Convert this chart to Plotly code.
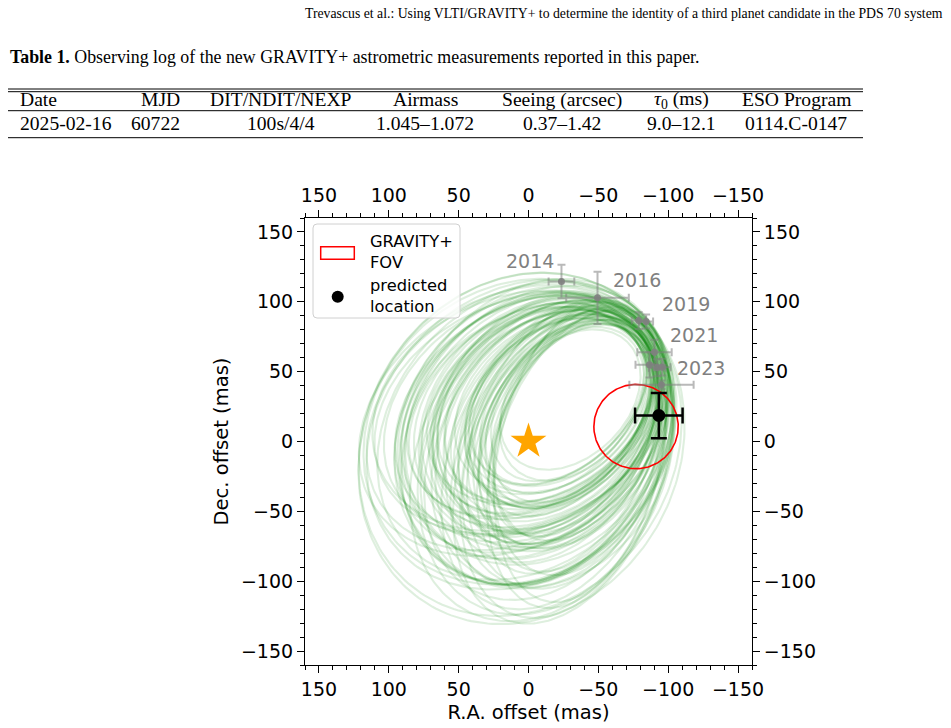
import numpy as np
import plotly.graph_objects as go

W, H = 951, 728

# ---------------- data ----------------
# Orbit draws: ellipse centre (RA, Dec offsets, mas), semi-axes (mas), tilt (deg)
orbit_ra0 = [-30, -21, -12, -4, 5, -20, -10, 0, 10, -29, -28, -26, -25, -21, -12, -4, 5,
             -31, -32, -34, -35, -12, -4, 5, -20, -15, -10,
             -23, -9, -6, 6, -17, -12, 3, 8, -26, -30, -23, -27, -23, -9, -6, 7,
             -28, -34, -31, -37, -9, -6, 7, -22, -12, -12,
             -13, -5, -11, -1, -29, -27, -13, -5, -33, -35, -13, -5, -21, -16, -31,
             -28, -27, -25, -24, -26, -22, -18, -16, -24, -14, -8, -18, -2, -6, 2, -14, -20]
orbit_dec0 = [30, 21, 12, 4, -5, 26, 22, 19, 15, 19, 8, -4, -15, 28, 25, 22, 20,
              20, 10, 0, -10, 18, 11, 5, 9, -2, -12,
              24, 13, 7, -2, 27, 25, 20, 18, 20, 11, -3, -12, 31, 26, 25, 22,
              21, 13, 1, -7, 19, 14, 7, 12, -1, -9,
              9, 1, 19, 16, 5, -7, 22, 19, 7, -3, 15, 8, 6, -5, 27,
              28, 25, 27, 22, 18, 24, 20, 15, 14, 24, 16, 4, 14, 2, 8, -6, -10]
orbit_a = [58, 76, 94, 112, 130, 73, 88, 103, 118, 74, 89, 105, 120, 71, 84, 97, 110,
           72, 85, 98, 112, 90, 105, 121, 90, 106, 122,
           79, 98, 115, 128, 77, 91, 107, 116, 78, 92, 109, 118, 74, 88, 100, 108,
           76, 88, 102, 110, 94, 108, 118, 93, 110, 119,
           91, 109, 85, 100, 86, 102, 81, 94, 82, 95, 87, 102, 87, 103, 62,
           66, 72, 70, 80, 80, 78, 86, 90, 88, 82, 96, 98, 108, 112, 118, 114, 116]
orbit_b = [41, 59, 76, 94, 112, 53, 65, 77, 89, 49, 57, 64, 72, 51, 60, 70, 80,
           46, 50, 55, 60, 70, 85, 100, 64, 76, 88,
           57, 79, 92, 110, 56, 63, 80, 86, 52, 55, 67, 70, 49, 63, 68, 82,
           49, 48, 58, 58, 73, 83, 102, 62, 79, 86,
           78, 96, 67, 79, 59, 66, 62, 72, 52, 57, 72, 87, 66, 78, 43,
           43, 45, 45, 52, 50, 54, 60, 66, 56, 60, 72, 68, 82, 88, 94, 80, 74]
orbit_tilt = [45, 49, 52, 56, 60, 41, 38, 34, 30, 51, 58, 64, 70, 40, 35, 30, 25,
              52, 60, 68, 75, 45, 45, 45, 55, 60, 65,
              52, 49, 59, 57, 38, 41, 31, 33, 48, 61, 61, 72, 43, 32, 33, 22,
              49, 63, 65, 77, 42, 48, 42, 58, 57, 68,
              58, 62, 44, 40, 64, 70, 41, 36, 66, 74, 51, 51, 61, 66, 50,
              47, 50, 43, 48, 55, 44, 46, 50, 56, 40, 44, 58, 40, 54, 46, 62, 66]

# Astrometric measurements (mas)
obs_ra = [-23.6, -49.4, -78.9, -84.2, -90.2, -86.6, -92.1, -95.7, -95.2]
obs_dec = [114.6, 102.9, 86.6, 85.9, 63.9, 54.9, 52.8, 53.2, 40.6]
obs_ra_err = [9.2, 22.4, 5.0, 5.0, 12.3, 10.0, 6.0, 6.0, 23.0]
obs_dec_err = [12.0, 18.7, 6.0, 5.0, 9.0, 9.0, 6.0, 6.0, 3.0]

epoch_labels = ["2014", "2016", "2019", "2021", "2023"]
epoch_label_ra = [-1.4, -77.8, -112.9, -118.3, -123.8]
epoch_label_dec = [129.1, 115.7, 98.1, 76.6, 52.8]

pred_ra, pred_dec = [-93.3], [18.6]
pred_ra_err, pred_dec_err = [17.0], [16.2]

fov_ra, fov_dec, fov_radius = -77.0, 10.7, 30.2

# Table
table_header = ["Date", "MJD", "DIT/NDIT/NEXP", "Airmass", "Seeing (arcsec)",
                "<i>τ</i><sub>0</sub> (ms)", "ESO Program"]
table_row = ["2025-02-16", "60722", "100s/4/4", "1.045–1.072", "0.37–1.42",
             "9.0–12.1", "0114.C-0147"]

# ---------------- helpers ----------------
def X(px):
    return px / W


def Y(py):
    return 1 - py / H


fig = go.Figure()

t = np.linspace(0, 2 * np.pi, 240)
for ra0, de0, a, b, th in zip(orbit_ra0, orbit_dec0, orbit_a, orbit_b, orbit_tilt):
    r = np.deg2rad(th)
    xw = a * np.cos(t) * np.cos(r) - b * np.sin(t) * np.sin(r)
    yn = a * np.cos(t) * np.sin(r) + b * np.sin(t) * np.cos(r)
    fig.add_trace(go.Scatter(x=ra0 - xw, y=de0 + yn, mode="lines",
                             line=dict(color="rgba(0,128,0,0.13)", width=2.1),
                             showlegend=False, hoverinfo="skip"))

# GRAVITY+ FOV
phi = np.linspace(0, 2 * np.pi, 200)
fig.add_trace(go.Scatter(x=fov_ra + fov_radius * np.cos(phi), y=fov_dec + fov_radius * np.sin(phi),
                         mode="lines", line=dict(color="red", width=1.6),
                         name="GRAVITY+ FOV", showlegend=False, hoverinfo="skip"))

# measurements
fig.add_trace(go.Scatter(
    x=obs_ra, y=obs_dec, mode="markers",
    marker=dict(color="rgba(128,128,128,0.9)", size=7),
    error_x=dict(type="data", array=obs_ra_err, color="rgba(128,128,128,0.55)", thickness=2, width=4),
    error_y=dict(type="data", array=obs_dec_err, color="rgba(128,128,128,0.55)", thickness=2, width=4),
    showlegend=False, hoverinfo="skip"))

# predicted location
fig.add_trace(go.Scatter(
    x=pred_ra, y=pred_dec, mode="markers", name="predicted location",
    marker=dict(color="black", size=13),
    error_x=dict(type="data", array=pred_ra_err, color="black", thickness=2.5, width=8),
    error_y=dict(type="data", array=pred_dec_err, color="black", thickness=2.5, width=8),
    showlegend=False, hoverinfo="skip"))

# star
fig.add_trace(go.Scatter(x=[0], y=[0], mode="markers",
                         marker=dict(symbol="star", color="#FFA500", size=27, line=dict(width=0)),
                         showlegend=False, hoverinfo="skip"))

# dummy trace for mirrored axes
fig.add_trace(go.Scatter(x=[None], y=[None], xaxis="x2", yaxis="y2", showlegend=False, hoverinfo="skip"))

for lab, lra, ldec in zip(epoch_labels, epoch_label_ra, epoch_label_dec):
    fig.add_annotation(x=lra, y=ldec, xref="x", yref="y", text=lab, showarrow=False,
                       font=dict(family="DejaVu Sans", size=19, color="gray"),
                       xanchor="center", yanchor="middle")

xdom = [X(305), X(752)]
ydom = [Y(665), Y(218)]
axis_common = dict(showgrid=False, zeroline=False, showline=True, linecolor="black", linewidth=1.1,
                   ticks="outside", ticklen=7, tickwidth=1.1, tickcolor="black",
                   tick0=0, dtick=50, automargin=False,
                   minor=dict(ticks="outside", ticklen=4, tickwidth=1, tickcolor="black", dtick=10, tick0=0),
                   tickfont=dict(family="DejaVu Sans", size=19, color="black"))

fig.update_layout(
    width=W, height=H, margin=dict(l=0, r=0, t=0, b=0, pad=0, autoexpand=False),
    paper_bgcolor="white", plot_bgcolor="white", showlegend=False,
    xaxis=dict(domain=xdom, range=[160, -160], anchor="y",
               title=dict(text="R.A. offset (mas)", font=dict(family="DejaVu Sans", size=19.5, color="black"),
                          standoff=6), **axis_common),
    yaxis=dict(domain=ydom, range=[-160, 160], anchor="x",
               title=dict(text="Dec. offset (mas)", font=dict(family="DejaVu Sans", size=19.5, color="black"),
                          standoff=7), **axis_common),
    xaxis2=dict(overlaying="x", side="top", anchor="y", range=[160, -160], **axis_common),
    yaxis2=dict(overlaying="y", side="right", anchor="x", range=[-160, 160], **axis_common),
)

# ---------- manual legend ----------
lx0, lx1, ly0, ly1, rr = 313, 460, 224, 318, 4
path = (f"M {X(lx0 + rr)},{Y(ly0)} L {X(lx1 - rr)},{Y(ly0)} Q {X(lx1)},{Y(ly0)} {X(lx1)},{Y(ly0 + rr)} "
        f"L {X(lx1)},{Y(ly1 - rr)} Q {X(lx1)},{Y(ly1)} {X(lx1 - rr)},{Y(ly1)} "
        f"L {X(lx0 + rr)},{Y(ly1)} Q {X(lx0)},{Y(ly1)} {X(lx0)},{Y(ly1 - rr)} "
        f"L {X(lx0)},{Y(ly0 + rr)} Q {X(lx0)},{Y(ly0)} {X(lx0 + rr)},{Y(ly0)} Z")
fig.add_shape(type="path", path=path, xref="paper", yref="paper",
              line=dict(color="#d0d0d0", width=1), fillcolor="rgba(255,255,255,0.8)", layer="above")
fig.add_shape(type="rect", xref="paper", yref="paper", x0=X(320.7), x1=X(354.3), y0=Y(259.3), y1=Y(246.7),
              line=dict(color="red", width=1.5), fillcolor="rgba(0,0,0,0)", layer="above")
fig.add_shape(type="circle", xref="paper", yref="paper", x0=X(331.7), x1=X(343.7), y0=Y(302.7), y1=Y(290.7),
              line=dict(color="black", width=0), fillcolor="black", layer="above")
for txt, py in [("GRAVITY+<br>FOV", 251.9), ("predicted<br>location", 295.9)]:
    fig.add_annotation(x=X(368), y=Y(py), xref="paper", yref="paper", text=txt, showarrow=False,
                       xanchor="left", yanchor="middle", align="left",
                       font=dict(family="DejaVu Sans", size=16.3, color="black"))

# ---------- page header, caption and table ----------
serif = "Liberation Serif"
fig.add_annotation(x=X(945), y=Y(13.3), xref="paper", yref="paper", showarrow=False,
                   xanchor="right", yanchor="middle",
                   text="Trevascus et al.: Using VLTI/GRAVITY+ to determine the identity of a third planet candidate in the PDS 70 system",
                   font=dict(family=serif, size=13.75, color="black"))
fig.add_annotation(x=X(8), y=Y(57.1), xref="paper", yref="paper", showarrow=False,
                   xanchor="left", yanchor="middle",
                   text="<b>Table 1.</b> Observing log of the new GRAVITY+ astrometric measurements reported in this paper.",
                   font=dict(family=serif, size=17.85, color="black"))

for py in [89, 91.7, 110.7, 137.7]:
    fig.add_shape(type="line", xref="paper", yref="paper", x0=X(8), x1=X(863), y0=Y(py), y1=Y(py),
                  line=dict(color="black", width=1))

col_x = [18, 182, 281, 425, 562, 681, 796]
col_anchor = ["left", "right", "center", "center", "center", "center", "center"]
for txt, cx, anc in zip(table_header, col_x, col_anchor):
    fig.add_annotation(x=X(cx), y=Y(100), xref="paper", yref="paper", text=txt, showarrow=False,
                       xanchor=anc, yanchor="middle", font=dict(family=serif, size=19.6, color="black"))
for txt, cx, anc in zip(table_row, col_x, col_anchor):
    fig.add_annotation(x=X(cx), y=Y(123.3), xref="paper", yref="paper", text=txt, showarrow=False,
                       xanchor=anc, yanchor="middle", font=dict(family=serif, size=19.6, color="black"))

fig.write_html("out.html")
